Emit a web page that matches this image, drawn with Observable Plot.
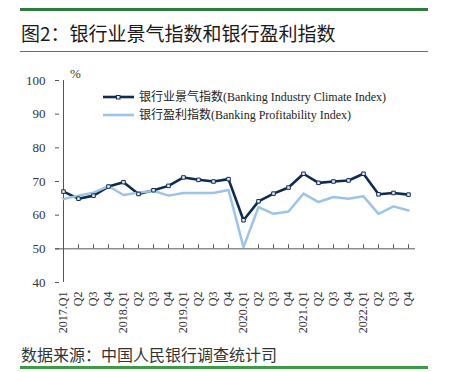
<!DOCTYPE html>
<html>
<head>
<meta charset="utf-8">
<script src="https://cdn.jsdelivr.net/npm/d3@7"></script>
<script src="https://cdn.jsdelivr.net/npm/@observablehq/plot@0.6"></script>
<style>
  body { margin: 0; background: #fff; }
  #wrap { position: relative; width: 449px; height: 372px; overflow: hidden; background: #fff; }
  .abs { position: absolute; }
  #title { left: 21px; top: 21px; font-family: "Noto Sans CJK SC", sans-serif; font-size: 19px; color: #1a1a1a; line-height: 24px; white-space: nowrap; }
  #source { left: 21px; top: 345px; font-family: "Noto Sans CJK SC", sans-serif; font-size: 16px; color: #333; line-height: 19px; white-space: nowrap; }
  .leg { left: 103px; font-family: "Liberation Serif", "Noto Sans CJK SC", serif; font-size: 12px; color: #222; display: flex; align-items: center; white-space: nowrap; line-height: 14px; }
  #pct { left: 70px; top: 66px; font-family: "Liberation Serif", serif; font-size: 13px; color: #333; }
  #chart { left: 0; top: 55px; }
</style>
</head>
<body>
<div id="wrap">
  <div class="abs" style="left:20px; top:8px; width:408px; height:3px; background:#2f7d3c;"></div>
  <div class="abs" id="title">图2：银行业景气指数和银行盈利指数</div>
  <div class="abs" style="left:20px; top:51px; width:408px; height:1px; background:#3f8a4a;"></div>
  <div class="abs" id="chart"></div>
  <div class="abs" id="pct">%</div>
  <div class="abs leg" id="leg1" style="top:90px;"></div>
  <div class="abs leg" id="leg2" style="top:108px;"></div>
  <div class="abs" id="source">数据来源：中国人民银行调查统计司</div>
  <div class="abs" style="left:20px; top:366px; width:408px; height:3px; background:#3d9b45;"></div>
</div>
<script>
const quarters = ["2017Q1","2017Q2","2017Q3","2017Q4","2018Q1","2018Q2","2018Q3","2018Q4",
  "2019Q1","2019Q2","2019Q3","2019Q4","2020Q1","2020Q2","2020Q3","2020Q4",
  "2021Q1","2021Q2","2021Q3","2021Q4","2022Q1","2022Q2","2022Q3","2022Q4"];
const tickLabels = ["2017.Q1","Q2","Q3","Q4","2018.Q1","Q2","Q3","Q4",
  "2019.Q1","Q2","Q3","Q4","2020.Q1","Q2","Q3","Q4",
  "2021.Q1","Q2","Q3","Q4","2022.Q1","Q2","Q3","Q4"];
const climateIndex = [67.0,64.9,65.8,68.5,69.8,66.3,67.4,68.7,71.2,70.5,70.0,70.7,
  58.5,64.1,66.4,68.2,72.3,69.6,70.0,70.3,72.3,66.2,66.6,66.1];
const profitIndex = [64.8,65.8,66.7,68.6,66.0,66.7,67.2,65.8,66.6,66.6,66.6,67.5,
  50.5,62.4,60.4,61.1,66.4,63.9,65.4,64.9,65.6,60.4,62.6,61.4];
const yTicks = [40,50,60,70,80,90,100];
const seriesNames = ["银行业景气指数(Banking Industry Climate Index)", "银行盈利指数(Banking Profitability Index)"];

const darkColor = "#0f2b52";
const lightColor = "#9dc4e6";
const axisColor = "#555";

const climate = quarters.map((q, i) => ({q, v: climateIndex[i]}));
const profit = quarters.map((q, i) => ({q, v: profitIndex[i]}));
const labelOf = new Map(quarters.map((q, i) => [q, tickLabels[i]]));

const W = 449, H = 290, mL = 55, mR = 34, mT = 25, mB = 63;
const plotW = W - mL - mR;

const chart = Plot.plot({
  width: W, height: H,
  marginLeft: mL, marginRight: mR, marginTop: mT, marginBottom: mB,
  style: {fontFamily: "'Liberation Serif', serif", color: "#333", background: "transparent"},
  x: {type: "point", domain: quarters, padding: 0},
  y: {domain: [40, 100]},
  marks: [
    Plot.axisY(yTicks, {tickSize: 0, tickPadding: 10, fontSize: 13, label: null, fill: "#333"}),
    Plot.axisX({tickSize: 0, tickPadding: 9, tickRotate: -90, fontSize: 12, label: null, fill: "#333",
      tickFormat: d => labelOf.get(d)}),
    Plot.ruleY(yTicks, {y: d => d, insetRight: plotW - 4, stroke: axisColor}),
    Plot.ruleY([50], {stroke: axisColor}),
    Plot.ruleX([quarters[0]], {y1: 40, y2: 100, stroke: axisColor}),
    Plot.ruleX(quarters, {x: d => d, y1: 50, y2: 51.2, stroke: axisColor}),
    Plot.line(climate, {x: "q", y: "v", stroke: darkColor, strokeWidth: 2.6}),
    Plot.line(profit, {x: "q", y: "v", stroke: lightColor, strokeWidth: 2.5}),
    Plot.dot(climate, {x: "q", y: "v", symbol: "square", r: 2, fill: "#e8eef5", stroke: darkColor, strokeWidth: 1})
  ]
});
document.getElementById("chart").appendChild(chart);

function swatch(color, marker) {
  const ns = "http://www.w3.org/2000/svg";
  const s = document.createElementNS(ns, "svg");
  s.setAttribute("width", 34); s.setAttribute("height", 10);
  s.style.marginRight = "2px";
  const l = document.createElementNS(ns, "line");
  l.setAttribute("x1", 0); l.setAttribute("x2", 31); l.setAttribute("y1", 5); l.setAttribute("y2", 5);
  l.setAttribute("stroke", color); l.setAttribute("stroke-width", 2.6);
  s.appendChild(l);
  if (marker) {
    const r = document.createElementNS(ns, "rect");
    r.setAttribute("x", 13.5); r.setAttribute("y", 3.5); r.setAttribute("width", 3.5); r.setAttribute("height", 3.5);
    r.setAttribute("fill", "#e8eef5"); r.setAttribute("stroke", color); r.setAttribute("stroke-width", 1);
    s.appendChild(r);
  }
  return s;
}
const leg1 = document.getElementById("leg1");
leg1.appendChild(swatch(darkColor, true));
leg1.appendChild(document.createTextNode(seriesNames[0]));
const leg2 = document.getElementById("leg2");
leg2.appendChild(swatch(lightColor, false));
leg2.appendChild(document.createTextNode(seriesNames[1]));
</script>
</body>
</html>
